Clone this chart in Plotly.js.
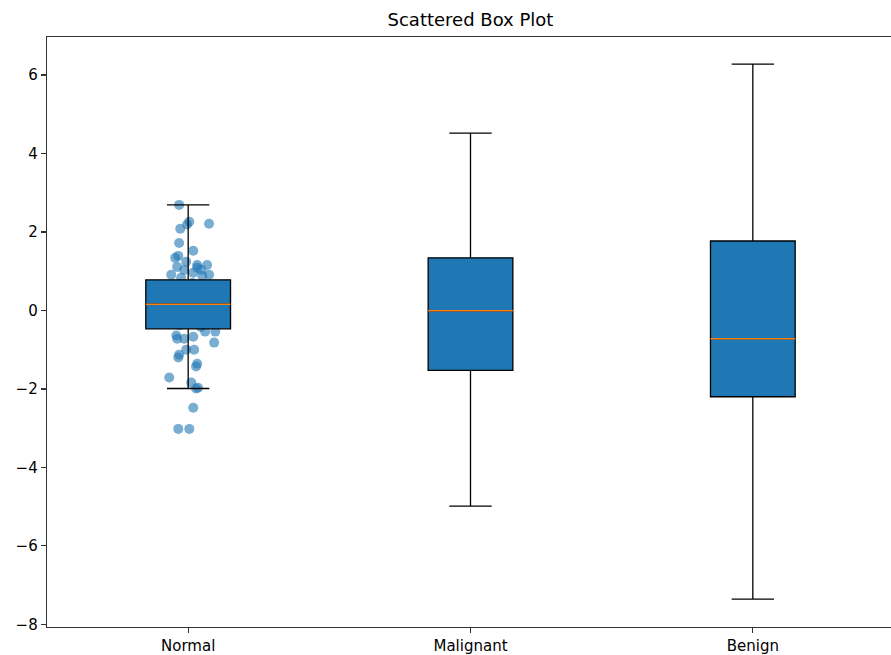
<!DOCTYPE html>
<html>
<head>
<meta charset="utf-8">
<script src="https://cdn.plot.ly/plotly-3.0.1.min.js"></script>
<style>
html, body { margin: 0; padding: 0; overflow: hidden; background: #fff; }
#chart { width: 894px; height: 655px; }
</style>
</head>
<body>
<div id="chart"></div>
<script>
// Categories and positions
const categories = ["Normal", "Malignant", "Benign"];
const positions = [1, 2, 3];

// Box statistics
const lowerWhisker = [-1.99, -4.99, -7.36];
const q1 = [-0.47, -1.53, -2.20];
const median = [0.16, -0.01, -0.72];
const q3 = [0.78, 1.34, 1.77];
const upperWhisker = [2.69, 4.52, 6.28];

// Scattered (jittered) points for the "Normal" group
const normalX = [
  0.968, 1.004, 0.996, 1.074, 0.972, 0.968, 0.965, 1.018, 0.954, 0.993,
  1.032, 1.067, 0.961, 1.046, 1.018, 0.940, 1.074, 0.986, 1.032, 1.050,
  0.975, 0.958, 0.961, 0.986, 1.018, 1.060, 1.096, 1.092, 0.968, 0.965,
  0.993, 1.021, 1.032, 1.028, 0.933, 1.011, 1.035, 1.028, 1.018, 0.965,
  1.004, 0.980, 1.010, 1.040, 0.955, 1.060, 0.990, 1.025, 0.970, 1.050,
  1.000, 0.945, 1.080, 1.015, 0.985, 1.045, 0.960, 1.030, 1.005, 0.975
];
const normalY = [
  2.69, 2.26, 2.19, 2.21, 2.08, 1.72, 1.39, 1.52, 1.34, 1.24,
  1.16, 1.16, 1.11, 1.04, 0.96, 0.91, 0.91, 1.03, 1.09, 0.88,
  0.83, -0.64, -0.72, -0.72, -0.67, -0.54, -0.54, -0.82, -1.13, -1.20,
  -1.00, -1.00, -1.36, -1.43, -1.71, -1.84, -1.97, -1.99, -2.48, -3.02,
  -3.02, 0.62, 0.45, 0.30, 0.12, 0.05, -0.10, -0.25, -0.38, 0.55,
  0.20, -0.30, 0.40, 0.70, -0.05, -0.42, 0.35, 0.10, -0.20, 0.66
];

const blue = "#1f77b4";
const orange = "#ff7f0e";

const scatterTrace = {
  type: "scatter", mode: "markers",
  x: normalX, y: normalY,
  xaxis: "x", yaxis: "y",
  marker: { color: blue, size: 10, opacity: 0.6, line: { width: 0 } },
  hoverinfo: "skip", showlegend: false
};

const boxTrace = {
  type: "box",
  x: positions,
  q1: q1, median: median, q3: q3,
  lowerfence: lowerWhisker, upperfence: upperWhisker,
  xaxis: "x2", yaxis: "y2",
  width: 0.3,
  whiskerwidth: 0.5,
  fillcolor: blue,
  line: { color: "#000000", width: 1.3 },
  boxpoints: false,
  showlegend: false
};

const medianTrace = {
  type: "box",
  x: positions,
  q1: median, median: median, q3: median,
  lowerfence: median, upperfence: median,
  xaxis: "x2", yaxis: "y2",
  width: 0.3,
  whiskerwidth: 0,
  fillcolor: "rgba(0,0,0,0)",
  line: { color: orange, width: 1.5 },
  boxpoints: false,
  showlegend: false
};

const xRange = [0.5, 3.5];
const yRange = [-8.07, 6.97];
const axisColor = "#333333";

const layout = {
  width: 894, height: 655,
  margin: { l: 47, r: 0, t: 37, b: 28, pad: 0 },
  paper_bgcolor: "#ffffff", plot_bgcolor: "#ffffff",
  font: { family: "DejaVu Sans, sans-serif", size: 15, color: "#000000" },
  title: {
    text: "Scattered Box Plot",
    font: { family: "DejaVu Sans, sans-serif", size: 18, color: "#000000" },
    x: 0.5, xref: "paper", xanchor: "center",
    y: 1 - 20 / 655, yref: "container", yanchor: "middle"
  },
  boxmode: "overlay",
  xaxis: {
    range: xRange, tickmode: "array", tickvals: positions, ticktext: categories,
    showgrid: false, zeroline: false,
    showline: true, linecolor: axisColor, linewidth: 1.3, mirror: true,
    ticks: "outside", ticklen: 5, tickwidth: 1.3, tickcolor: axisColor,
    tickfont: { size: 15, color: "#000000" }
  },
  yaxis: {
    range: yRange, tickmode: "linear", tick0: 0, dtick: 2,
    showgrid: false, zeroline: false,
    showline: true, linecolor: axisColor, linewidth: 1.3, mirror: true,
    ticks: "outside", ticklen: 5, tickwidth: 1.3, tickcolor: axisColor,
    tickfont: { size: 15, color: "#000000" }
  },
  xaxis2: {
    overlaying: "x", range: xRange, visible: false,
    showgrid: false, zeroline: false
  },
  yaxis2: {
    overlaying: "y", range: yRange, visible: false,
    showgrid: false, zeroline: false
  }
};

Plotly.newPlot("chart", [scatterTrace, boxTrace, medianTrace], layout, { staticPlot: true });
</script>
</body>
</html>
